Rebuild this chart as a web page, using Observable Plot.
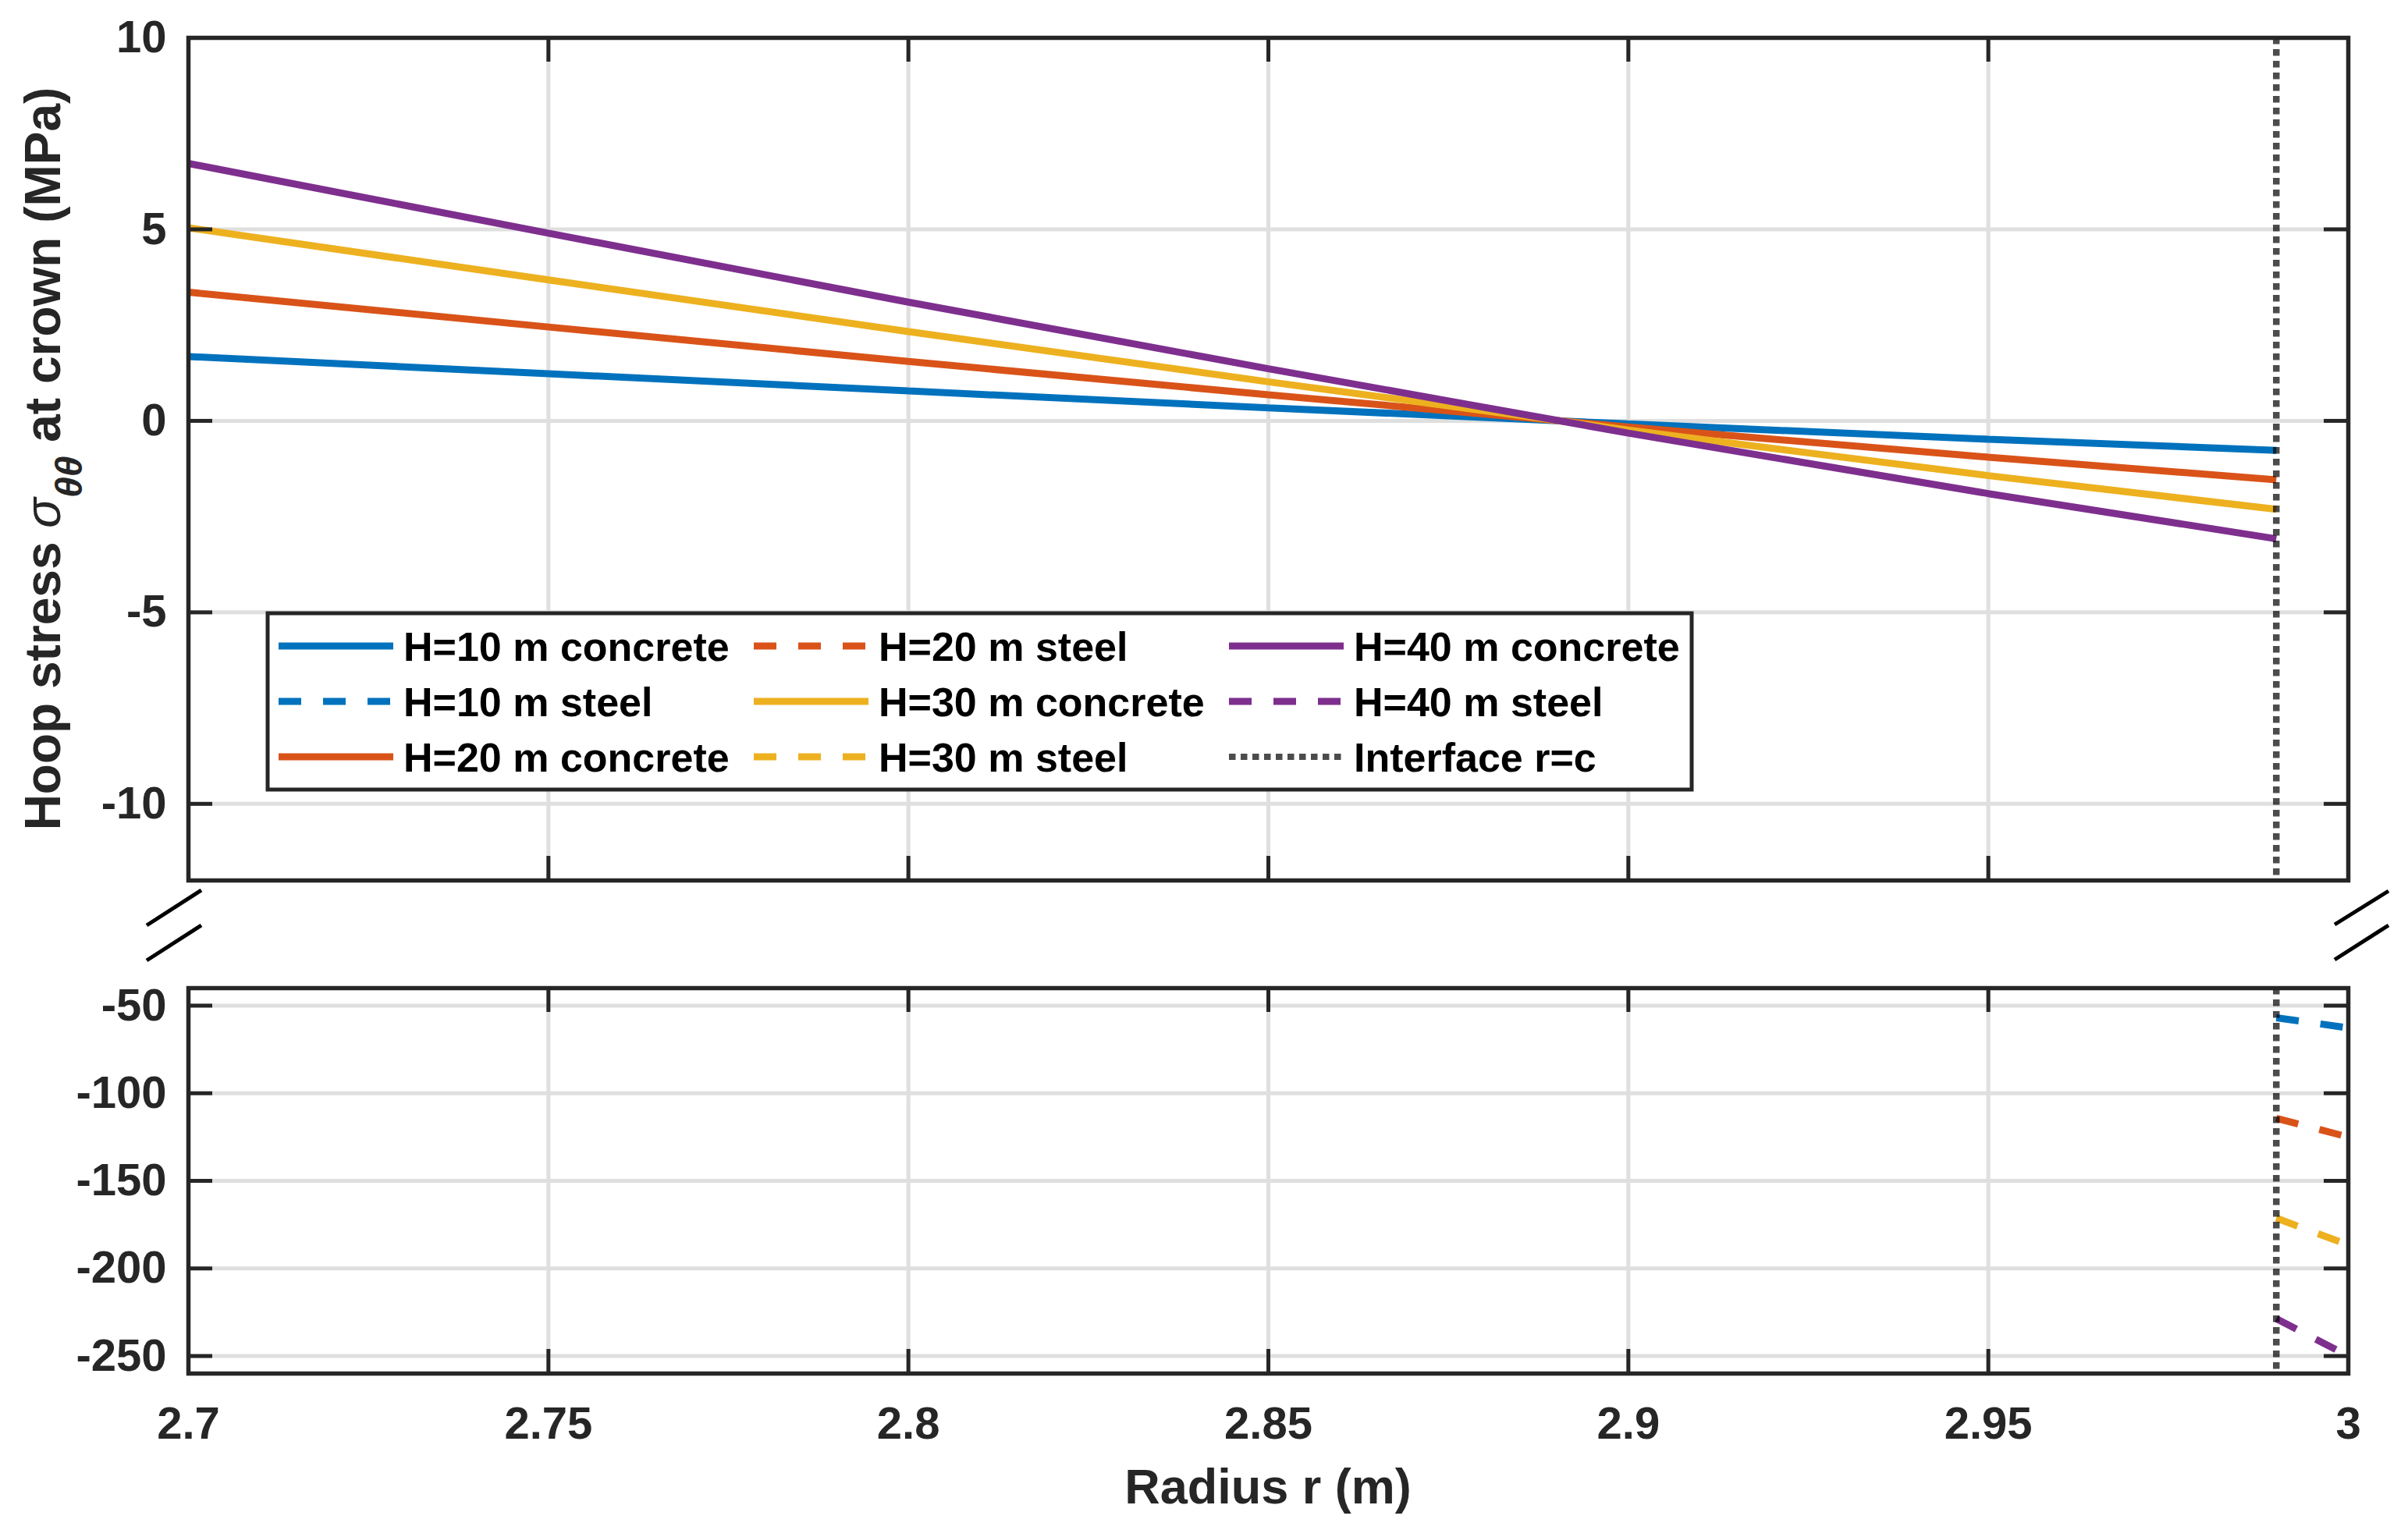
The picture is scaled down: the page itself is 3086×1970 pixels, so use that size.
<!DOCTYPE html>
<html><head><meta charset="utf-8">
<script src="https://cdn.jsdelivr.net/npm/d3@7"></script>
<script src="https://cdn.jsdelivr.net/npm/@observablehq/plot@0.6"></script>
<style>
html,body{margin:0;padding:0;background:#fff;overflow:hidden;}
#wrap{position:relative;width:3086px;height:1970px;background:#fff;}
#wrap > svg{position:absolute;left:0;}
</style></head><body><div id="wrap"></div>
<script>
// ---- data ----
const rConcrete   = [2.7, 2.75, 2.8, 2.85, 2.9, 2.95, 2.99];
const concreteH10 = [1.68, 1.23, 0.78, 0.34, -0.08, -0.48, -0.77];
const concreteH20 = [3.36, 2.45, 1.55, 0.68, -0.16, -0.95, -1.54];
const concreteH30 = [5.04, 3.68, 2.33, 1.02, -0.24, -1.43, -2.31];
const concreteH40 = [6.72, 4.90, 3.10, 1.36, -0.32, -1.90, -3.08];
const rSteel   = [2.99, 3.0];
const steelH10 = [-56.9, -62.7];
const steelH20 = [-114.3, -125.0];
const steelH30 = [-171.3, -186.6];
const steelH40 = [-228.7, -250.0];
const depths = ["H=10 m", "H=20 m", "H=30 m", "H=40 m"];
const colors = ["#0072BD", "#D95319", "#EDB120", "#7E2F8E"];
const interfaceR = 2.99;
const interfaceLabel = "Interface r=c";
const xTicks = [2.7, 2.75, 2.8, 2.85, 2.9, 2.95, 3.0];
const xTickLabels = ["2.7", "2.75", "2.8", "2.85", "2.9", "2.95", "3"];
const yTicksTop = [-10, -5, 0, 5, 10];
const yTicksBottom = [-250, -200, -150, -100, -50];
const yDomainTop = [-12, 10];
const yDomainBottom = [-260, -40];
const xLabel = "Radius r (m)";

const concreteSeries = [concreteH10, concreteH20, concreteH30, concreteH40];
const steelSeries = [steelH10, steelH20, steelH30, steelH40];
const concreteRows = depths.flatMap((H, i) => rConcrete.map((r, j) => ({H, r, v: concreteSeries[i][j]})));
const steelRows = depths.flatMap((H, i) => rSteel.map((r, j) => ({H, r, v: steelSeries[i][j]})));

const FONT = "'Liberation Sans', Arial, Helvetica, sans-serif";
const AX = "#262626";
const GRID = "#dfdfdf";
const W = 3086, mL = 241, mR = 77;
const fw = W - mL - mR;
const TICK = 31;

function panel({height, marginTop, marginBottom, yDomain, yTicks, rows, dash, showX}) {
  const fh = height - marginTop - marginBottom;
  const gridX = xTicks.slice(1, -1);
  const gridY = yTicks.filter(t => t > yDomain[0] && t < yDomain[1]);
  return Plot.plot({
    width: W, height, marginLeft: mL, marginRight: mR, marginTop, marginBottom,
    style: {fontFamily: FONT, fontWeight: "bold", fontSize: "58px", color: AX, background: "transparent", overflow: "visible"},
    x: {domain: [2.7, 3.0], ...(showX
      ? {axis: "bottom", ticks: xTicks, tickSize: 0, tickPadding: 42, tickFormat: (d, i) => xTickLabels[i], label: null}
      : {axis: null})},
    y: {domain: yDomain, axis: "left", ticks: yTicks, tickSize: 0, tickPadding: 28, tickFormat: d => String(d), label: null},
    color: {domain: depths, range: colors},
    marks: [
      Plot.ruleX(gridX, {x: d => d, stroke: GRID, strokeWidth: 5}),
      Plot.ruleY(gridY, {y: d => d, stroke: GRID, strokeWidth: 5}),
      Plot.line(rows, {x: "r", y: "v", z: "H", stroke: "H", strokeWidth: 9, strokeLinecap: "butt", strokeLinejoin: "miter", strokeDasharray: dash}),
      Plot.ruleX([interfaceR], {x: d => d, stroke: "black", strokeOpacity: 0.7, strokeWidth: 8.5, strokeDasharray: "8.5 6.5"}),
      Plot.tickX(xTicks, {x: d => d, insetBottom: fh - TICK, stroke: AX, strokeWidth: 5}),
      Plot.tickX(xTicks, {x: d => d, insetTop: fh - TICK, stroke: AX, strokeWidth: 5}),
      Plot.tickY(yTicks, {y: d => d, insetRight: fw - TICK, stroke: AX, strokeWidth: 5}),
      Plot.tickY(yTicks, {y: d => d, insetLeft: fw - TICK, stroke: AX, strokeWidth: 5}),
      Plot.frame({stroke: AX, strokeWidth: 5.5})
    ]
  });
}

const wrapEl = document.getElementById("wrap");
const topPanel = panel({height: 1200, marginTop: 48, marginBottom: 72, yDomain: yDomainTop, yTicks: yTicksTop, rows: concreteRows, dash: null, showX: false});
topPanel.style.top = "0px";
wrapEl.appendChild(topPanel);
const bottomPanel = panel({height: 770, marginTop: 66, marginBottom: 210, yDomain: yDomainBottom, yTicks: yTicksBottom, rows: steelRows, dash: "29 28", showX: true});
bottomPanel.style.top = "1200px";
wrapEl.appendChild(bottomPanel);

// ---- overlay: legend, axis titles, break marks ----
const ov = d3.select(wrapEl).append("svg")
  .attr("width", W).attr("height", 1970)
  .style("top", "0px").style("pointer-events", "none")
  .style("font-family", FONT).style("font-weight", "bold");

// axis-break marks
const breaks = [
  [[188, 1186], [258, 1141]], [[188, 1231], [258, 1186]],
  [[2992, 1185], [3061, 1142]], [[2992, 1230], [3061, 1186]]
];
ov.selectAll("line.brk").data(breaks).join("line").attr("class", "brk")
  .attr("x1", d => d[0][0]).attr("y1", d => d[0][1])
  .attr("x2", d => d[1][0]).attr("y2", d => d[1][1])
  .attr("stroke", "black").attr("stroke-width", 5);

// legend
const entries = [];
depths.forEach((H, i) => {
  entries.push({label: H + " concrete", color: colors[i], dash: null, op: 1});
  entries.push({label: H + " steel", color: colors[i], dash: "29 28", op: 1});
});
entries.push({label: interfaceLabel, color: "black", dash: "8.5 6.5", op: 0.7});
const colX = [357, 966, 1575], rowY = [828, 899, 970];
const lg = ov.append("g");
lg.append("rect").attr("x", 343).attr("y", 786).attr("width", 1825).attr("height", 226)
  .attr("fill", "white").attr("stroke", AX).attr("stroke-width", 5);
entries.forEach((e, k) => {
  const cx = colX[Math.floor(k / 3)], cy = rowY[k % 3];
  lg.append("line").attr("x1", cx).attr("x2", cx + 147).attr("y1", cy).attr("y2", cy)
    .attr("stroke", e.color).attr("stroke-opacity", e.op)
    .attr("stroke-width", e.label === interfaceLabel ? 8 : 9)
    .attr("stroke-dasharray", e.dash);
  lg.append("text").attr("x", cx + 160).attr("y", cy + 19)
    .attr("font-size", 52).attr("fill", "black").text(e.label);
});

// y title
const yt = ov.append("text").attr("transform", "translate(77,588) rotate(-90)")
  .attr("text-anchor", "middle").attr("font-size", 64).attr("fill", AX);
yt.append("tspan").text("Hoop stress ");
yt.append("tspan").attr("font-style", "italic").attr("font-weight", "normal").text("σ");
yt.append("tspan").attr("font-style", "italic").attr("font-size", 48).attr("dy", 28).text("θθ");
yt.append("tspan").attr("dy", -28).text(" at crown (MPa)");

// x title
ov.append("text").attr("x", 1625).attr("y", 1927).attr("text-anchor", "middle")
  .attr("font-size", 63).attr("fill", AX).text(xLabel);
</script></body></html>
